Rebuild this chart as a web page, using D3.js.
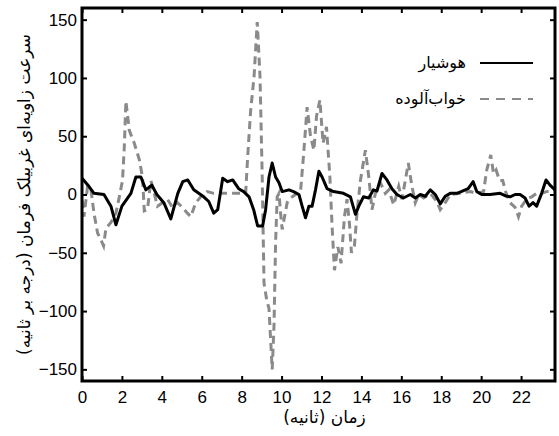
<!DOCTYPE html>
<html lang="fa">
<head>
<meta charset="UTF-8">
<title>Steering wheel angular velocity</title>
<script src="https://d3js.org/d3.v7.min.js"></script>
<style>
    body { margin: 0; background: #fff; }
    svg { display: block; }
    .tick text { font-family: 'Liberation Sans', Arial, sans-serif; font-size: 17px; fill: #000; }
    .fa { font-family: 'DejaVu Sans', sans-serif; fill: #000; }
</style>
</head>
<body>
<svg id="chart" width="559" height="436"></svg>
<script>
// alert driver (solid black)
const alertT = [0, 0.3, 0.6, 1.1, 1.45, 1.7, 2.0, 2.45, 2.7, 2.95, 3.2, 3.5, 3.75, 4.1, 4.45, 4.8, 5.05, 5.3, 5.6, 6.1,
    6.35, 6.6, 6.8, 7.05, 7.3, 7.55, 7.85, 8.1, 8.37, 8.6, 8.8, 9.05, 9.2, 9.37, 9.53, 9.7, 9.87, 10.03, 10.37, 10.6,
    10.87, 11.03, 11.2, 11.37, 11.53, 11.7, 11.87, 12.03, 12.28, 12.6, 13.1, 13.45, 13.7, 13.87, 14.1, 14.37, 14.6, 14.78,
    15.03, 15.28, 15.53, 15.78, 16.1, 16.45, 16.7, 16.95, 17.2, 17.45, 17.7, 17.95, 18.2, 18.45, 18.78, 19.0, 19.35,
    19.6, 19.78, 20.03, 20.45, 20.95, 21.2, 21.45, 21.7, 21.95, 22.2, 22.4, 22.6, 22.78, 23.03, 23.25, 23.45, 23.7];
const alertV = [14, 8, 1, 0, -10, -26, -10, 1, 15, 15, 4, 8, 0, -7, -21, 1, 11, 12.5, 4, -2,
    -6, -16, -13, 14, 11, 12.5, 5, 2.5, -2, -13, -27, -27, -13, 15, 27, 15, 10, 2.5, 4, 2.5,
    0, -10, -20, -10, -10, 4, 20, 15, 5, 2.5, 1, -2, -17, -10, -2, -3, 4, 3,
    18, 12.5, 5, 0, -3, 0, -3, 0, -1.5, 4, 0, -8, -1.5, 1, 1, 2.5, 5,
    11, 2.5, 0, 0, 1, -1, -2, 0, 0, -3, -10, -7, -10, 1, 12.5, 8, 4];

// drowsy driver (dashed grey)
const drowsyT = [0, 0.1, 0.28, 0.45, 0.6, 0.78, 0.95, 1.08, 1.2, 1.45, 1.7, 1.87, 2.03, 2.12, 2.2, 2.37, 2.62, 2.87, 3.03, 3.12,
    3.28, 3.45, 3.62, 3.78, 4.03, 4.28, 4.53, 4.78, 5.03, 5.28, 5.45, 5.7, 5.95, 6.28, 6.6, 7.1, 7.8, 8.2, 8.3, 8.45,
    8.62, 8.78, 8.92, 9.03, 9.12, 9.25, 9.37, 9.53, 9.62, 9.7, 9.78, 9.87, 9.95, 10.03, 10.15, 10.28, 10.45, 10.7, 10.95, 11.12,
    11.28, 11.45, 11.62, 11.75, 11.92, 12.08, 12.25, 12.42, 12.53, 12.65, 12.82, 12.98, 13.15, 13.28, 13.4, 13.5, 13.65, 13.78, 13.95, 14.2,
    14.37, 14.53, 14.7, 14.95, 15.2, 15.37, 15.62, 15.87, 16.03, 16.2, 16.35, 16.53, 16.7, 16.87, 17.12, 17.45, 17.78, 17.95, 18.2, 18.45,
    18.95, 19.45, 19.78, 20.12, 20.28, 20.48, 20.62, 20.75, 20.92, 21.08, 21.25, 21.45, 21.7, 21.87, 22.03, 22.28, 22.53, 22.78, 23.03, 23.28, 23.7];
const drowsyV = [-5, -19, 7, 4, -16, -33, -39, -44, -29, -24, -16, -2, 12, 41, 80, 55, 44, 30, 15, -14,
    -13, 12, 1, -10, -7, -4, -11, -7, -11, -16, -19, -7, -2, 2.5, 1, 1, 1, 1, 32, 72,
    101, 148, 101, 15, -76, -90, -98, -150, -113, -41, -2, 1, -16, -30, -19, -7, -3, 0, 2.5, 38,
    75, 50, 38, 67, 81, 44, 58, 15, -27, -65, -45, -59, -19, -4, -25, -50, -44, -16, 12, 38,
    15, -13, 1, 10, 1, 4, -9, 7, -4, 12, 27, 7, -7, 0, -3, 1, -6, -13, -7, 0,
    1, 2.5, 1, 2.5, 21, 34, 18, 21, 12, 12, 1, -7, -11, -19, -10, -4, -2, 1, 1, 2.5, 4];

const xTicks = d3.range(0, 23, 2);
const yTicks = [-150, -100, -50, 0, 50, 100, 150];

const seriesNames = ['هوشیار', 'خواب‌آلوده'];
const xLabel = 'زمان (ثانیه)';
const yLabel = 'سرعت زاویه‌ای غربیلک فرمان (درجه بر ثانیه)';

const plotLeft = 82, plotRight = 555, plotTop = 8, plotBottom = 381;
const grey = '#8a8a8a';

const svg = d3.select('#chart');

const x = d3.scaleLinear().domain([0, 23.7]).range([plotLeft, plotRight]);
const y = d3.scaleLinear().domain([-160, 160]).range([plotBottom, plotTop]);

svg.append('defs').append('clipPath').attr('id', 'plot')
    .append('rect')
    .attr('x', plotLeft).attr('y', plotTop)
    .attr('width', plotRight - plotLeft).attr('height', plotBottom - plotTop);

const line = d3.line()
    .x(d => x(d[0]))
    .y(d => y(d[1]));

const drowsy = d3.zip(drowsyT, drowsyV);
const alertData = d3.zip(alertT, alertV);

const lines = svg.append('g').attr('clip-path', 'url(#plot)');

lines.append('path')
    .datum(drowsy)
    .attr('d', line)
    .attr('fill', 'none')
    .attr('stroke', grey)
    .attr('stroke-width', 3)
    .attr('stroke-dasharray', '8,5');

lines.append('path')
    .datum(alertData)
    .attr('d', line)
    .attr('fill', 'none')
    .attr('stroke', '#000')
    .attr('stroke-width', 3)
    .attr('stroke-linejoin', 'round');

// axes, ticks pointing inwards on all four sides
function styleAxis(g) {
    g.select('.domain').remove();
    g.selectAll('.tick line').attr('stroke', '#000').attr('stroke-width', 2);
}

svg.append('g')
    .attr('transform', `translate(0,${plotBottom})`)
    .call(d3.axisBottom(x).tickValues(xTicks).tickSizeInner(-5).tickSizeOuter(0).tickPadding(10))
    .call(styleAxis);

svg.append('g')
    .attr('transform', `translate(0,${plotTop})`)
    .call(d3.axisTop(x).tickValues(xTicks).tickSizeInner(-5).tickSizeOuter(0).tickFormat(''))
    .call(styleAxis);

svg.append('g')
    .attr('transform', `translate(${plotLeft},0)`)
    .call(d3.axisLeft(y).tickValues(yTicks).tickSizeInner(-5).tickSizeOuter(0).tickPadding(5))
    .call(styleAxis);

svg.append('g')
    .attr('transform', `translate(${plotRight},0)`)
    .call(d3.axisRight(y).tickValues(yTicks).tickSizeInner(-5).tickSizeOuter(0).tickFormat(''))
    .call(styleAxis);

svg.append('rect')
    .attr('x', plotLeft).attr('y', plotTop)
    .attr('width', plotRight - plotLeft).attr('height', plotBottom - plotTop)
    .attr('fill', 'none')
    .attr('stroke', '#000')
    .attr('stroke-width', 3);

// legend
const legend = svg.append('g');
const legendY = [63, 99];
const legendStyles = [
    { stroke: '#000', dash: null, width: 2 },
    { stroke: grey, dash: '9,7', width: 2 }
];
seriesNames.forEach((name, i) => {
    legend.append('line')
        .attr('x1', 480).attr('x2', 533)
        .attr('y1', legendY[i]).attr('y2', legendY[i])
        .attr('stroke', legendStyles[i].stroke)
        .attr('stroke-width', legendStyles[i].width)
        .attr('stroke-dasharray', legendStyles[i].dash);
    legend.append('text')
        .attr('class', 'fa')
        .attr('x', 466).attr('y', legendY[i])
        .attr('dy', '0.3em')
        .attr('text-anchor', 'end')
        .style('font-size', '16px')
        .text(name);
});

// axis titles
svg.append('text')
    .attr('class', 'fa')
    .attr('x', (plotLeft + plotRight) / 2 + 6)
    .attr('y', 423)
    .attr('text-anchor', 'middle')
    .style('font-size', '17px')
    .text(xLabel);

svg.append('text')
    .attr('class', 'fa')
    .attr('transform', `translate(30,${(plotTop + plotBottom) / 2}) rotate(-90)`)
    .attr('text-anchor', 'middle')
    .style('font-size', '17px')
    .text(yLabel);
</script>
</body>
</html>
